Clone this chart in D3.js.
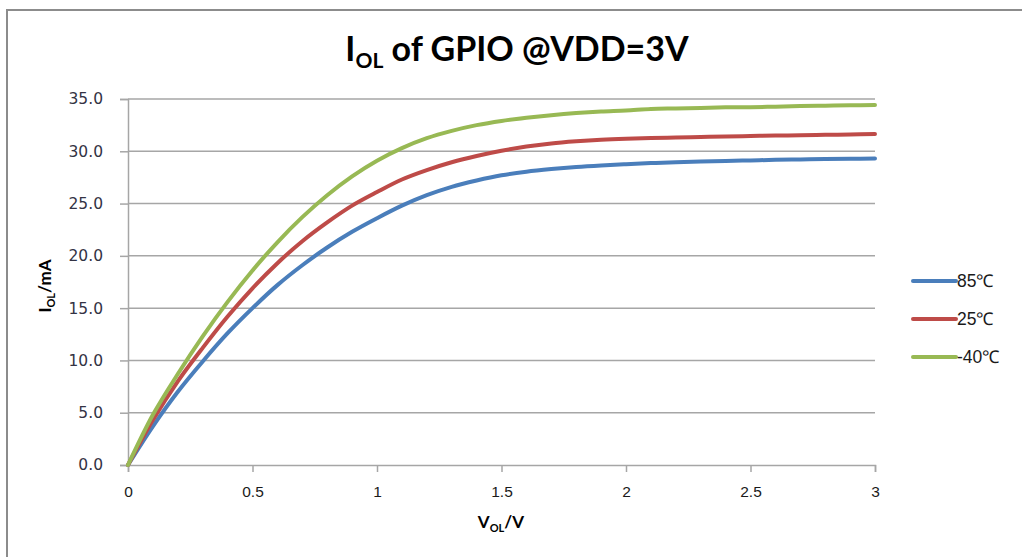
<!DOCTYPE html>
<html>
<head>
<meta charset="utf-8">
<script src="https://cdn.jsdelivr.net/npm/d3@7"></script>
<style>
  html, body { margin: 0; padding: 0; background: #fff; }
  svg { display: block; }
</style>
</head>
<body>
<svg id="chart" width="1022" height="557"></svg>
<script>
// ---- data ----
const voltages = [0,0.1,0.2,0.3,0.4,0.5,0.6,0.7,0.8,0.9,1.0,1.1,1.2,1.3,1.4,1.5,1.6,1.7,1.8,1.9,2.0,2.1,2.2,2.3,2.4,2.5,2.6,2.7,2.8,2.9,3.0];
const i85  = [0,3.7,7.0,9.9,12.6,15.0,17.2,19.1,20.8,22.3,23.6,24.8,25.8,26.6,27.2,27.7,28.05,28.3,28.5,28.65,28.77,28.87,28.95,29.02,29.08,29.13,29.18,29.22,29.26,29.29,29.3];
const i25  = [0,4.3,8.0,11.2,14.2,16.9,19.3,21.4,23.2,24.8,26.1,27.3,28.2,28.95,29.55,30.05,30.45,30.75,30.95,31.1,31.2,31.27,31.32,31.37,31.42,31.46,31.5,31.53,31.57,31.61,31.65];
const iM40 = [0,4.8,8.7,12.3,15.6,18.6,21.3,23.7,25.8,27.6,29.1,30.3,31.25,31.95,32.5,32.9,33.2,33.45,33.65,33.8,33.9,34.05,34.1,34.15,34.2,34.22,34.27,34.32,34.36,34.4,34.42];
const seriesNames = ["85℃", "25℃", "-40℃"];
const seriesColors = ["#4a7ebb", "#be4b48", "#98b954"];
const yTicks = [0,5,10,15,20,25,30,35];
const xTicks = [0,0.5,1,1.5,2,2.5,3];

const seriesValues = [i85, i25, iM40];

const svg = d3.select("#chart");

// chart border (outer frame, partly clipped like the reference)
svg.append("rect")
  .attr("x", 7).attr("y", 10).attr("width", 1030).attr("height", 560)
  .attr("fill", "#fff").attr("stroke", "#8c8c8c").attr("stroke-width", 2);

const x = d3.scaleLinear().domain([0, 3]).range([128, 875]);
const y = d3.scaleLinear().domain([0, 35]).range([465, 99]);

// gridlines
svg.append("g").selectAll("line").data(yTicks.filter(d => d > 0)).join("line")
  .attr("x1", x(0)).attr("x2", x(3))
  .attr("y1", d => y(d)).attr("y2", d => y(d))
  .attr("stroke", "#a6a6a6").attr("stroke-width", 1.5);

// y axis
const yAxis = svg.append("g").attr("transform", `translate(${x(0)},0)`)
  .call(d3.axisLeft(y).tickValues(yTicks).tickFormat(d3.format(".1f")).tickSize(8).tickPadding(17));
yAxis.select(".domain").attr("stroke", "#a6a6a6").attr("stroke-width", 1.5);
yAxis.selectAll(".tick line").attr("stroke", "#a6a6a6").attr("stroke-width", 1.5);
yAxis.selectAll("text").attr("font-family", "DejaVu Sans").attr("font-size", 15.5)
  .attr("fill", "#333344");

// x axis
const xAxis = svg.append("g").attr("transform", `translate(0,${y(0)})`)
  .call(d3.axisBottom(x).tickValues(xTicks).tickFormat(d => String(d)).tickSize(7).tickPadding(14));
xAxis.select(".domain").attr("stroke", "#a6a6a6").attr("stroke-width", 1.5);
xAxis.selectAll(".tick line").attr("stroke", "#a6a6a6").attr("stroke-width", 1.5);
xAxis.selectAll("text").attr("font-family", "Liberation Sans").attr("font-size", 15.5)
  .attr("fill", "#1a1a1a");

// lines
const line = d3.line().x((d, i) => x(voltages[i])).y(d => y(d)).curve(d3.curveCatmullRom.alpha(0.5));
svg.append("g").selectAll("path").data(seriesValues).join("path")
  .attr("d", d => line(d))
  .attr("fill", "none")
  .attr("stroke", (d, i) => seriesColors[i])
  .attr("stroke-width", 4)
  .attr("stroke-linejoin", "round").attr("stroke-linecap", "round");

// title
const title = svg.append("text").attr("x", 517).attr("y", 61).attr("text-anchor", "middle")
  .attr("font-family", "Lato").attr("font-weight", "bold").attr("font-size", 34).attr("fill", "#000");
title.append("tspan").text("I");
title.append("tspan").attr("font-size", 21).attr("dy", 7).text("OL");
title.append("tspan").attr("dy", -7).text(" of GPIO @VDD=3V");

// y title
const yt = svg.append("text").attr("transform", "translate(51,286) rotate(-90)").attr("text-anchor", "middle")
  .attr("font-family", "Lato").attr("font-weight", "bold").attr("font-size", 17).attr("fill", "#000");
yt.append("tspan").text("I");
yt.append("tspan").attr("font-size", 11).attr("dy", 4).text("OL");
yt.append("tspan").attr("dy", -4).text("/mA");

// x title
const xt = svg.append("text").attr("x", 501).attr("y", 528).attr("text-anchor", "middle")
  .attr("font-family", "Lato").attr("font-weight", "bold").attr("font-size", 17).attr("fill", "#000");
xt.append("tspan").text("V");
xt.append("tspan").attr("font-size", 11).attr("dy", 4).text("OL");
xt.append("tspan").attr("dy", -4).text("/V");

// legend
const lg = svg.append("g").selectAll("g").data(seriesNames).join("g")
  .attr("transform", (d, i) => `translate(913,${281 + i * 38})`);
lg.append("line").attr("x1", 0).attr("x2", 43).attr("y1", 0).attr("y2", 0)
  .attr("stroke", (d, i) => seriesColors[i]).attr("stroke-width", 4).attr("stroke-linecap", "round");
lg.append("text").attr("x", 44).attr("y", 6).attr("font-family", "Liberation Sans").attr("font-size", 17.5)
  .attr("fill", "#1a1a1a").text(d => d);
</script>
</body>
</html>
